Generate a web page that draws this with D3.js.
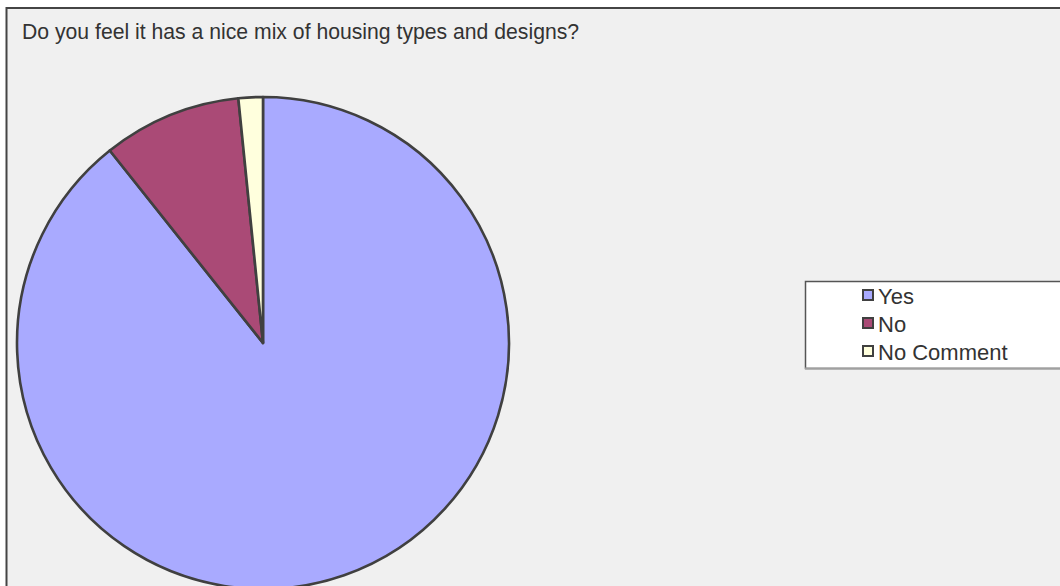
<!DOCTYPE html>
<html>
<head>
<meta charset="utf-8">
<script src="https://cdn.jsdelivr.net/npm/d3@7"></script>
<style>
  body{margin:0;background:#fff;}
  svg{display:block;font-family:"Liberation Sans",Arial,sans-serif;}
</style>
</head>
<body>
<svg class="chart" width="1060" height="586"></svg>
<script>
// answers and share of responses (percent)
var categories = ["Yes","No","No Comment"];
var values = [89.3, 9.1, 1.6];
var colours = ["#a9aaff","#aa4a76","#ffffdd"];
var title = "Do you feel it has a nice mix of housing types and designs?";

var w = 1060, h = 586;
var svg = d3.select("svg.chart");

// panel
svg.append("rect")
    .attr("x",6.5)
    .attr("y",8)
    .attr("width",w+20)
    .attr("height",h+20)
    .attr("fill","#f0f0f0")
    .attr("stroke","#444")
    .attr("stroke-width",2);

svg.append("text")
    .attr("x",22)
    .attr("y",39)
    .attr("font-size",21.2)
    .attr("fill","#333")
    .text(title);

// pie
var cx = 263, cy = 343, r = 246;
var pie = d3.pie().sort(null).value(function(d){ return d; });
var arc = d3.arc().innerRadius(0).outerRadius(r);
var color = d3.scaleOrdinal().domain(categories).range(colours);

svg.append("g")
    .attr("transform","translate("+cx+","+cy+")")
    .selectAll("path")
    .data(pie(values))
    .enter()
    .append("path")
    .attr("d",arc)
    .attr("fill",function(d,i){ return color(categories[i]); })
    .attr("stroke","#404040")
    .attr("stroke-width",2.6)
    .attr("stroke-linejoin","round");

// legend
var lx = 805, ly = 281;
svg.append("rect")
    .attr("x",lx+0.5)
    .attr("y",ly+0.5)
    .attr("width",300)
    .attr("height",87)
    .attr("fill","#fff")
    .attr("stroke","#555")
    .attr("stroke-width",1.5);
svg.append("line")
    .attr("x1",lx)
    .attr("x2",w)
    .attr("y1",ly+87.5)
    .attr("y2",ly+87.5)
    .attr("stroke","#a0a0a0")
    .attr("stroke-width",2);

var row = d3.scaleBand().domain(categories).range([ly+1, ly+85]);
var item = svg.selectAll("g.legend")
    .data(categories)
    .enter()
    .append("g")
    .attr("class","legend")
    .attr("transform",function(d){ return "translate(0,"+(row(d)+row.bandwidth()/2)+")"; });
item.append("rect")
    .attr("x",863)
    .attr("y",-6)
    .attr("width",10)
    .attr("height",10)
    .attr("fill",function(d){ return color(d); })
    .attr("stroke","#404040")
    .attr("stroke-width",2);
item.append("text")
    .attr("x",878)
    .attr("y",8)
    .attr("font-size",22)
    .attr("fill","#333")
    .text(function(d){ return d; });
</script>
</body>
</html>
